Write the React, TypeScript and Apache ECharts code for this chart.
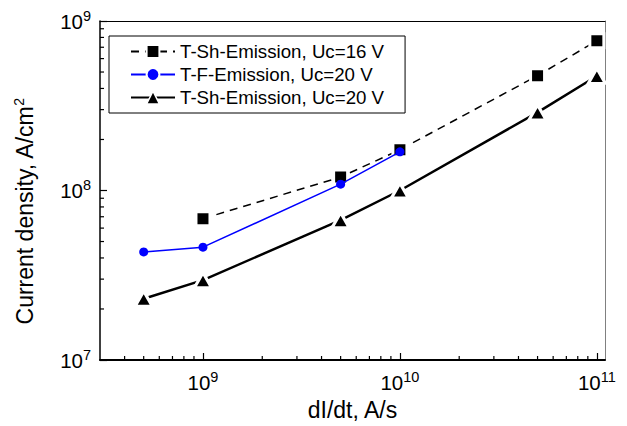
import React, { useEffect, useRef } from "react";
import * as echarts from "echarts";

// dI/dt values (A/s) and current densities (A/cm²) for each data set
const shUc16X = [1e9, 5e9, 1e10, 5e10, 1e11];
const shUc16Y = [6.82e7, 1.2e8, 1.74e8, 4.76e8, 7.65e8];

const fUc20X = [5e8, 1e9, 5e9, 1e10];
const fUc20Y = [4.34e7, 4.63e7, 1.09e8, 1.69e8];

const shUc20X = [5e8, 1e9, 5e9, 1e10, 5e10, 1e11];
const shUc20Y = [2.3e7, 2.96e7, 6.69e7, 1.0e8, 2.89e8, 4.74e8];

const seriesNames = [
  "T-Sh-Emission, Uc=16 V",
  "T-F-Emission, Uc=20 V",
  "T-Sh-Emission, Uc=20 V",
];

// axis ranges
const xMin = 3e8;
const xMax = 1.1e11;
const yMin = 1e7;
const yMax = 1e9;

// minor tick positions on the log axes
const xMinorTicks = [
  4e8, 5e8, 6e8, 7e8, 8e8, 9e8,
  2e9, 3e9, 4e9, 5e9, 6e9, 7e9, 8e9, 9e9,
  2e10, 3e10, 4e10, 5e10, 6e10, 7e10, 8e10, 9e10,
];
const yMinorTicks = [
  2e7, 3e7, 4e7, 5e7, 6e7, 7e7, 8e7, 9e7,
  2e8, 3e8, 4e8, 5e8, 6e8, 7e8, 8e8, 9e8,
];

const FONT = "'Liberation Sans', Arial, Helvetica, sans-serif";

const zip = (xs: number[], ys: number[]) => xs.map((x, i) => [x, ys[i]]);

// render a power of ten as 10 with a superscript exponent
const powerLabel = (v: number) => {
  const e = Math.round(Math.log10(v));
  if (Math.abs(v / Math.pow(10, e) - 1) > 1e-6) return "";
  return `{base|10}{exp|${e}}`;
};

const labelRich = {
  base: { fontSize: 20.5, fontFamily: FONT, color: "#000" },
  exp: { fontSize: 14.5, fontFamily: FONT, color: "#000", padding: [0, 0, 11, 0] },
};

export default function App() {
  const ref = useRef<HTMLDivElement>(null);

  useEffect(() => {
    if (!ref.current) return;
    const chart = echarts.init(ref.current, undefined, { renderer: "svg" });

    const option: any = {
      animation: false,
      backgroundColor: "#fff",
      grid: { left: 100, right: 22, top: 21, bottom: 65, containLabel: false },
      legend: {
        data: [
          { name: seriesNames[0], itemStyle: { borderWidth: 2 } },
          { name: seriesNames[1], itemStyle: { borderColor: "#fff", borderWidth: 2 } },
          { name: seriesNames[2], itemStyle: { borderWidth: 1.5 } },
        ],
        orient: "vertical",
        left: 109,
        top: 36,
        itemWidth: 44,
        itemHeight: 16,
        itemGap: 4,
        padding: [6, 21, 6, 21],
        borderColor: "#000",
        borderWidth: 1,
        textStyle: { fontSize: 18.7, fontFamily: FONT, color: "#000", lineHeight: 18 },
      },
      xAxis: [
        {
          type: "log",
          logBase: 10,
          min: xMin,
          max: xMax,
          splitNumber: 3,
          name: "dI/dt, A/s",
          nameLocation: "middle",
          nameGap: 38,
          nameTextStyle: { fontSize: 23, fontFamily: FONT, color: "#000" },
          axisLine: { onZero: false, lineStyle: { color: "#000", width: 2 } },
          axisTick: { inside: true, length: 7, lineStyle: { color: "#000", width: 1.2 } },
          axisLabel: {
            margin: 9,
            fontSize: 20.5,
            fontFamily: FONT,
            color: "#000",
            formatter: powerLabel,
            rich: labelRich,
            showMinLabel: false,
            showMaxLabel: false,
          },
          splitLine: { show: false },
        },
        {
          type: "log",
          logBase: 10,
          min: xMin,
          max: xMax,
          position: "top",
          axisLine: { onZero: false, lineStyle: { color: "#000", width: 1 } },
          axisTick: { show: false },
          axisLabel: { show: false },
          splitLine: { show: false },
        },
      ],
      yAxis: [
        {
          type: "log",
          logBase: 10,
          min: yMin,
          max: yMax,
          splitNumber: 2,
          name: "Current density, A/cm{exp|2}",
          nameLocation: "middle",
          nameGap: 62,
          nameTextStyle: {
            fontSize: 23,
            fontFamily: FONT,
            color: "#000",
            padding: [0, 42, 0, 0],
            rich: {
              exp: { fontSize: 14, fontFamily: FONT, color: "#000", padding: [0, 0, 12, 0] },
            },
          },
          axisLine: { onZero: false, lineStyle: { color: "#000", width: 1.5 } },
          axisTick: { inside: true, length: 7, lineStyle: { color: "#000", width: 1.2 } },
          axisLabel: {
            margin: 9,
            fontSize: 20.5,
            fontFamily: FONT,
            color: "#000",
            formatter: powerLabel,
            rich: labelRich,
          },
          splitLine: { show: false },
        },
        {
          type: "log",
          logBase: 10,
          min: yMin,
          max: yMax,
          position: "right",
          axisLine: { onZero: false, lineStyle: { color: "#808080", width: 1 } },
          axisTick: { show: false },
          axisLabel: { show: false },
          splitLine: { show: false },
        },
      ],
      series: [
        {
          name: seriesNames[0],
          type: "line",
          data: zip(shUc16X, shUc16Y),
          symbol: "rect",
          symbolSize: 14,
          lineStyle: { color: "#000", width: 1.5, type: [8, 6] },
          itemStyle: { color: "#000", borderColor: "#fff", borderWidth: 3 },
          z: 2,
        },
        {
          name: seriesNames[1],
          type: "line",
          data: zip(fUc20X, fUc20Y),
          symbol: "circle",
          symbolSize: 9,
          lineStyle: { color: "#0000ff", width: 1.5 },
          itemStyle: { color: "#0000ff", borderWidth: 0 },
          z: 3,
        },
        {
          name: seriesNames[2],
          type: "line",
          data: zip(shUc20X, shUc20Y),
          symbol: "triangle",
          symbolSize: [17, 15],
          lineStyle: { color: "#000", width: 2.5 },
          itemStyle: { color: "#000", borderColor: "#fff", borderWidth: 3 },
          z: 4,
        },
        {
          type: "custom",
          silent: true,
          data: xMinorTicks.map((v) => [v, yMin]),
          renderItem: (_p: any, api: any) => {
            const pt = api.coord([api.value(0), api.value(1)]);
            return {
              type: "line",
              shape: { x1: pt[0], y1: pt[1], x2: pt[0], y2: pt[1] - 4 },
              style: { stroke: "#000", lineWidth: 1.2 },
            };
          },
          z: 5,
        },
        {
          type: "custom",
          silent: true,
          data: yMinorTicks.map((v) => [xMin, v]),
          renderItem: (_p: any, api: any) => {
            const pt = api.coord([api.value(0), api.value(1)]);
            return {
              type: "line",
              shape: { x1: pt[0], y1: pt[1], x2: pt[0] + 4, y2: pt[1] },
              style: { stroke: "#000", lineWidth: 1.2 },
            };
          },
          z: 5,
        },
      ],
    };

    chart.setOption(option);
    return () => chart.dispose();
  }, []);

  return (
    <div
      ref={ref}
      style={{ position: "fixed", left: 0, top: 0, width: 627, height: 426, background: "#fff" }}
    />
  );
}
